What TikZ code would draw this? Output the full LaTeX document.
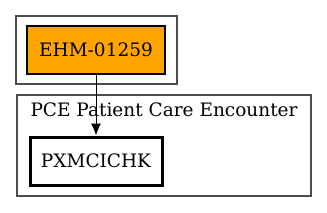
\documentclass[tikz,border=0pt]{standalone}
\usepackage{fontspec}
\setmainfont{DejaVu Serif}
\usetikzlibrary{arrows.meta}
\begin{document}
\begin{tikzpicture}[x=1pt,y=-1pt,
  cluster/.style={draw=black!70,line width=1.2pt},
  boxnode/.style={draw=black,minimum width=138pt,minimum height=48pt,inner sep=0pt,font=\fontsize{18.5}{20}\selectfont},
  edge/.style={draw=black,line width=1pt,-{Latex[length=12pt,width=10pt]}}]
\useasboundingbox (0,0) rectangle (327,212);
\draw[cluster] (16,16) rectangle (177,84);
\draw[cluster] (17,95) rectangle (311,196);
\node[font=\fontsize{18.5}{20}\selectfont] (lbl) at (164,110) {PCE Patient Care Encounter};
\node[boxnode,fill={rgb,255:red,255;green,165;blue,0},line width=1.2pt] (ehm) at (96,50) {EHM-01259};
\node[boxnode,minimum width=132pt,line width=3pt] (px) at (96,161) {PXMCICHK};
\draw[edge] (ehm.south) -- (px.north);
\end{tikzpicture}
\end{document}
